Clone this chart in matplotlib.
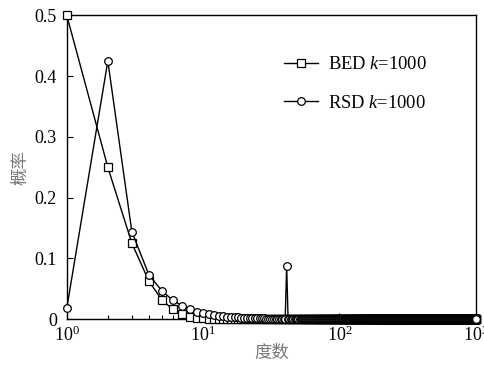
import matplotlib
matplotlib.use("Agg")
import matplotlib.pyplot as plt
import numpy as np
from matplotlib.ticker import LogLocator, FixedLocator

plt.rcParams['font.family'] = ['Liberation Serif', 'Noto Sans CJK SC']
plt.rcParams['mathtext.fontset'] = 'custom'
plt.rcParams['mathtext.rm'] = 'Liberation Serif'
plt.rcParams['mathtext.it'] = 'Liberation Serif:italic'

max_degree = 1000
degrees = list(range(1, max_degree + 1))

# BED k=1000 (degrees 1..12), remaining degrees read as 0
bed_head = [0.5, 0.25, 0.125, 0.0625, 0.031, 0.016, 0.008, 0.004, 0.002, 0.001,
            0.0005, 0.0002]
bed_values = bed_head + [0.0] * (max_degree - len(bed_head))

# RSD k=1000 (degrees 1..41), remaining degrees read as 0
rsd_head = [0.018, 0.425, 0.144, 0.073, 0.046, 0.031, 0.022, 0.016, 0.012, 0.0095,
            0.0078, 0.0065, 0.0055, 0.0047, 0.004, 0.0035, 0.003, 0.0027, 0.0024, 0.0021,
            0.0019, 0.0017, 0.0015, 0.0014, 0.0013, 0.0012, 0.0011, 0.001, 0.0009, 0.0008,
            0.0007, 0.0007, 0.0006, 0.0006, 0.0005, 0.0005, 0.0004, 0.0004, 0.0003, 0.0003,
            0.088]
rsd_values = rsd_head + [0.0] * (max_degree - len(rsd_head))

y_ticks = [0, 0.1, 0.2, 0.3, 0.4, 0.5]
y_tick_labels = ['0', '0.1', '0.2', '0.3', '0.4', '0.5']

fig = plt.figure(figsize=(4.84, 3.68), dpi=100)
ax = fig.add_axes([0.138, 0.133, 0.845, 0.825])

ax.plot(degrees, bed_values, color='black', lw=1.0, marker='s', ms=5.5,
        mfc='white', mec='black', mew=0.9, clip_on=False, zorder=3,
        label='BED $k$=1000')
ax.plot(degrees, rsd_values, color='black', lw=1.0, marker='o', ms=5.5,
        mfc='white', mec='black', mew=0.9, clip_on=False, zorder=4,
        label='RSD $k$=1000')

ax.set_xscale('log')
ax.set_xlim(1, 1000)
ax.set_ylim(0, 0.5)
ax.set_yticks(y_ticks)
ax.set_yticklabels(y_tick_labels)
ax.xaxis.set_major_locator(FixedLocator([1, 10, 100, 1000]))
ax.xaxis.set_minor_locator(LogLocator(base=10, subs=np.arange(2, 10), numticks=20))
ax.set_xticklabels(['$10^0$', '$10^1$', '$10^2$', '$10^3$'])

ax.tick_params(axis='both', which='both', direction='in', top=False, right=False,
               labelsize=13, width=0.8)
ax.tick_params(axis='y', which='major', length=4, pad=7)
ax.tick_params(axis='x', which='major', length=4, pad=5)
ax.tick_params(axis='x', which='minor', length=3)
for s in ax.spines.values():
    s.set_linewidth(1.0)

ax.set_xlabel('度数', family=['Noto Sans CJK SC'], color='#777777', fontsize=12.5, labelpad=-1)
ax.set_ylabel('概率', family=['Noto Sans CJK SC'], color='#777777', fontsize=12.5, labelpad=4)

leg = ax.legend(loc='upper right', bbox_to_anchor=(0.92, 0.92), frameon=False,
                fontsize=13.3, handlelength=1.8, labelspacing=1.15, handletextpad=0.55)

fig.savefig('out.png', dpi=100)
